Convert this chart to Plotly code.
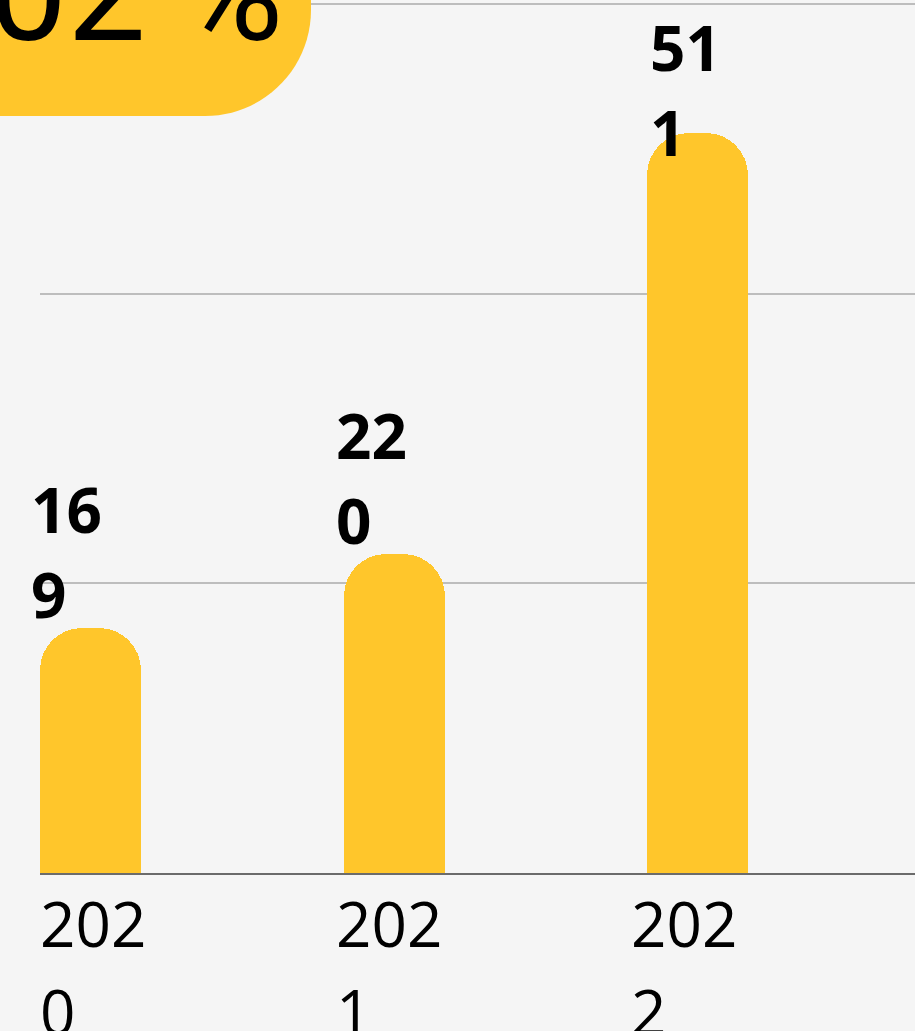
import plotly.graph_objects as go

# ---- data ----
years = ["2020", "2021", "2022"]
values = [169, 220, 511]
growth_label = "102 %"
y_grid_step = 200

# ---- layout constants ----
W, H = 915, 1031
ML, MR, MT, MB = 40, 0, 0, 158
PW = W - ML - MR
PH = H - MT - MB
BAR_W = 1 / 3
CAT_PX = 303.5
Y_MAX = 603
BAR_COLOR = "#FFC62B"
BG = "#F5F5F5"

# small horizontal nudges (px) for label placement
value_label_dx = [-2, 0, 10]
year_label_dx = [3, -4, -13]

x_idx = list(range(len(years)))
x_range = [-BAR_W / 2, -BAR_W / 2 + PW / CAT_PX]


def paper_x(px):
    return (px - ML) / PW


def paper_y(py):
    return (PH + MT - py) / PH


fig = go.Figure(
    go.Bar(
        x=x_idx,
        y=values,
        width=BAR_W,
        marker=dict(color=BAR_COLOR, cornerradius=42, line=dict(width=0)),
        hoverinfo="skip",
    )
)

annotations = []
FS = 62
VAL_FONT = dict(family="Open Sans", size=FS, color="#000000", weight="bold")
DESC = 20 * FS / 60  # px from baseline to annotation box bottom
LINE = 85
px_per_unit = PH / Y_MAX
for i, v in enumerate(values):
    s = str(v)
    top_px = MT + PH - v * px_per_unit
    base2 = top_px - 11
    base1 = base2 - LINE
    clamp = max(0, 70 - base1)
    for text, base in ((s[:-1], base1), (s[-1:], base2)):
        annotations.append(
            dict(
                x=i, xref="x", y=v, yref="y",
                text=text, showarrow=False,
                xanchor="left", yanchor="bottom",
                xshift=-BAR_W / 2 * CAT_PX - 9 + value_label_dx[i],
                yshift=(top_px - (base + clamp) - DESC),
                font=VAL_FONT, align="left",
            )
        )

YEAR_FONT = dict(family="Open Sans", size=FS, color="#000000")
for i, yr in enumerate(years):
    for text, base in ((yr[:-1], 946), (yr[-1:], 1034)):
        annotations.append(
            dict(
                x=i, xref="x", y=paper_y(base + DESC), yref="paper",
                text=text, showarrow=False,
                xanchor="left", yanchor="bottom",
                xshift=-BAR_W / 2 * CAT_PX - 5 + year_label_dx[i],
                font=YEAR_FONT, align="left",
            )
        )

# growth badge text
annotations.append(
    dict(
        x=paper_x(284.5), xref="paper", y=paper_y(43 + 33), yref="paper",
        text=growth_label, showarrow=False,
        xanchor="right", yanchor="bottom",
        font=dict(family="Roboto", size=140, color="#000000"),
    )
)

# badge shape: rounded bottom-right corner
R = 106
x0, x1 = -60, 311
y0, y1 = -60, 116
k = 0.5523 * R
path = (
    f"M {paper_x(x0)},{paper_y(y0)} "
    f"L {paper_x(x1)},{paper_y(y0)} "
    f"L {paper_x(x1)},{paper_y(y1 - R)} "
    f"C {paper_x(x1)},{paper_y(y1 - R + k)} {paper_x(x1 - R + k)},{paper_y(y1)} {paper_x(x1 - R)},{paper_y(y1)} "
    f"L {paper_x(x0)},{paper_y(y1)} Z"
)

fig.update_layout(
    width=W, height=H,
    margin=dict(l=ML, r=MR, t=MT, b=MB, pad=0),
    paper_bgcolor=BG, plot_bgcolor=BG,
    showlegend=False,
    bargap=0,
    xaxis=dict(
        range=x_range, showgrid=False, zeroline=False,
        showticklabels=False, ticks="",
        showline=True, linecolor="#6B6B6B", linewidth=2,
    ),
    yaxis=dict(
        range=[0, Y_MAX], dtick=y_grid_step, tick0=0,
        showgrid=True, gridcolor="#BDBDBD", gridwidth=1.5,
        zeroline=False, showticklabels=False, ticks="", showline=False,
    ),
    shapes=[dict(type="path", path=path, xref="paper", yref="paper",
                 fillcolor=BAR_COLOR, line=dict(width=0), layer="above")],
    annotations=annotations,
)

fig.write_html(
    "out.html",
    config={"displayModeBar": False},
    post_script="document.body.style.margin='0';document.body.style.overflow='hidden';",
)
